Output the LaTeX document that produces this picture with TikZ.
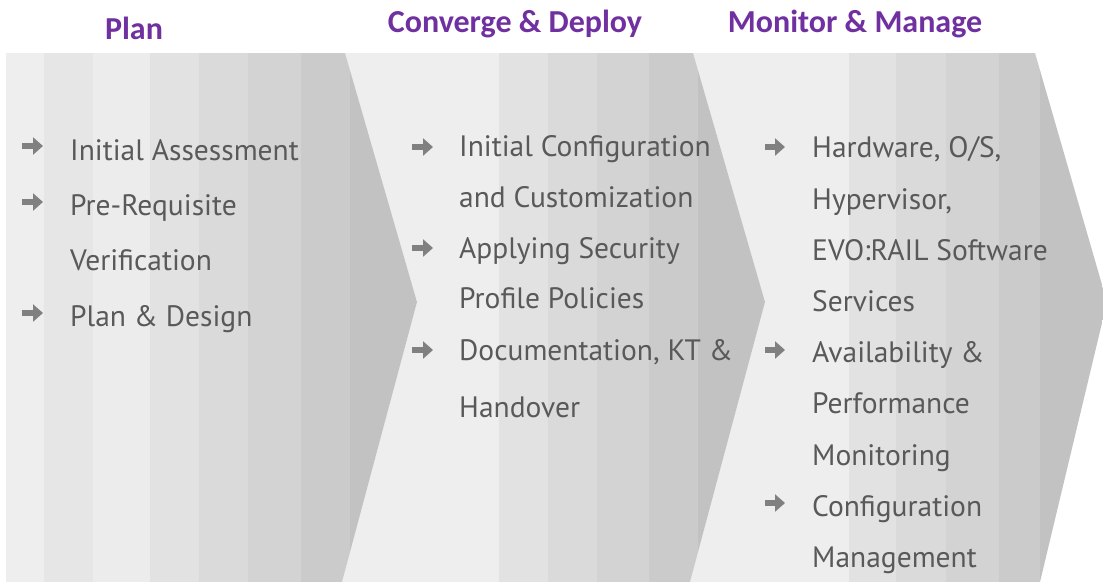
\documentclass[tikz,border=0pt]{standalone}
\usepackage{fontspec}
\setmainfont{PT Sans}
\newfontfamily\hdfont{Carlito}
\usetikzlibrary{arrows.meta}
\definecolor{txt}{HTML}{595959}
\definecolor{ttl}{HTML}{7030A0}
\definecolor{arr}{HTML}{808080}
\definecolor{s0}{HTML}{EEEEEE}
\definecolor{s1}{HTML}{E6E6E6}
\definecolor{s2}{HTML}{ECECEC}
\definecolor{s3}{HTML}{E2E2E2}
\definecolor{s4}{HTML}{DADADA}
\definecolor{s5}{HTML}{D3D3D3}
\definecolor{s6}{HTML}{CBCBCB}
\definecolor{s7}{HTML}{C2C2C2}
\newcommand{\itemfont}{\fontsize{29.5}{29.5}\selectfont}
\newcommand{\headfont}{\hdfont\bfseries\fontsize{32}{32}\selectfont}
\tikzset{
  item/.style={anchor=base west, inner sep=0pt, font=\itemfont, text=txt},
  head/.style={anchor=base, inner sep=0pt, font=\headfont, text=ttl},
  bul/.style={draw=arr, line width=5.5pt, -{Triangle[length=10pt,width=17pt]}},
}
\begin{document}
\begin{tikzpicture}[x=1pt,y=-1pt]
\useasboundingbox (0,0) rectangle (1103,582);
\fill[white] (0,0) rectangle (1103,582);
% chevron 3
\begin{scope}
\clip (693,53) -- (1035,53) -- (1107,302) -- (1040,582) -- (690,582) -- (765,302) -- cycle;
\fill[s0] (680,53) rectangle (849,582);
\fill[s3] (849,53) rectangle (896,582);
\fill[s4] (896,53) rectangle (946,582);
\fill[s5] (946,53) rectangle (999,582);
\fill[s6] (999,53) rectangle (1040,582);
\fill[s7] (1040,53) rectangle (1110,582);
\end{scope}
% chevron 2
\begin{scope}
\clip (345,53) -- (693,53) -- (765,302) -- (690,582) -- (342,582) -- (417,302) -- cycle;
\fill[s0] (330,53) rectangle (499,582);
\fill[s3] (499,53) rectangle (548,582);
\fill[s4] (548,53) rectangle (597,582);
\fill[s5] (597,53) rectangle (649,582);
\fill[s6] (649,53) rectangle (698,582);
\fill[s7] (698,53) rectangle (770,582);
\end{scope}
% chevron 1
\begin{scope}
\clip (6,53) -- (345,53) -- (417,302) -- (342,582) -- (6,582) -- cycle;
\fill[s0] (6,53) rectangle (44,582);
\fill[s1] (44,53) rectangle (93,582);
\fill[s2] (93,53) rectangle (150,582);
\fill[s3] (150,53) rectangle (199,582);
\fill[s4] (199,53) rectangle (248,582);
\fill[s5] (248,53) rectangle (301,582);
\fill[s6] (301,53) rectangle (350,582);
\fill[s7] (350,53) rectangle (420,582);
\end{scope}
% headings
\node[head] (h1) at (134,39) {Plan};
\node[head] (h2) at (515,32) {Converge \& Deploy};
\node[head] (h3) at (855,32) {Monitor \& Manage};
% Plan items
\node[item] (p1) at (70,160) {Initial Assessment};
\node[item] (p2) at (70,215) {Pre-Requisite};
\node[item] (p3) at (70,270) {Verification};
\node[item] (p4) at (70,326) {Plan \& Design};
\draw[bul] ([xshift=-48pt,yshift=14pt]p1.base west) -- ([xshift=-27pt,yshift=14pt]p1.base west);
\draw[bul] ([xshift=-48pt,yshift=13pt]p2.base west) -- ([xshift=-27pt,yshift=13pt]p2.base west);
\draw[bul] ([xshift=-48pt,yshift=13pt]p4.base west) -- ([xshift=-27pt,yshift=13pt]p4.base west);
% Converge items
\node[item] (c1) at (459,156) {Initial Configuration};
\node[item] (c2) at (459,207) {and Customization};
\node[item] (c3) at (459,258) {Applying Security};
\node[item] (c4) at (459,308) {Profile Policies};
\node[item] (c5) at (459,360) {Documentation, KT \&};
\node[item] (c6) at (459,417) {Handover};
\draw[bul] ([xshift=-47pt,yshift=9pt]c1.base west) -- ([xshift=-26pt,yshift=9pt]c1.base west);
\draw[bul] ([xshift=-47pt,yshift=10pt]c3.base west) -- ([xshift=-26pt,yshift=10pt]c3.base west);
\draw[bul] ([xshift=-47pt,yshift=10pt]c5.base west) -- ([xshift=-26pt,yshift=10pt]c5.base west);
% Monitor items
\node[item] (m1) at (812,157) {Hardware, O/S,};
\node[item] (m2) at (812,209) {Hypervisor,};
\node[item] (m3) at (812,260) {EVO:RAIL Software};
\node[item] (m4) at (812,311) {Services};
\node[item] (m5) at (812,362) {Availability \&};
\node[item] (m6) at (812,413) {Performance};
\node[item] (m7) at (812,465) {Monitoring};
\node[item] (m8) at (812,516) {Configuration};
\node[item] (m9) at (812,567) {Management};
\draw[bul] ([xshift=-47pt,yshift=10pt]m1.base west) -- ([xshift=-27pt,yshift=10pt]m1.base west);
\draw[bul] ([xshift=-47pt,yshift=12pt]m5.base west) -- ([xshift=-27pt,yshift=12pt]m5.base west);
\draw[bul] ([xshift=-47pt,yshift=13pt]m8.base west) -- ([xshift=-27pt,yshift=13pt]m8.base west);
\end{tikzpicture}
\end{document}
